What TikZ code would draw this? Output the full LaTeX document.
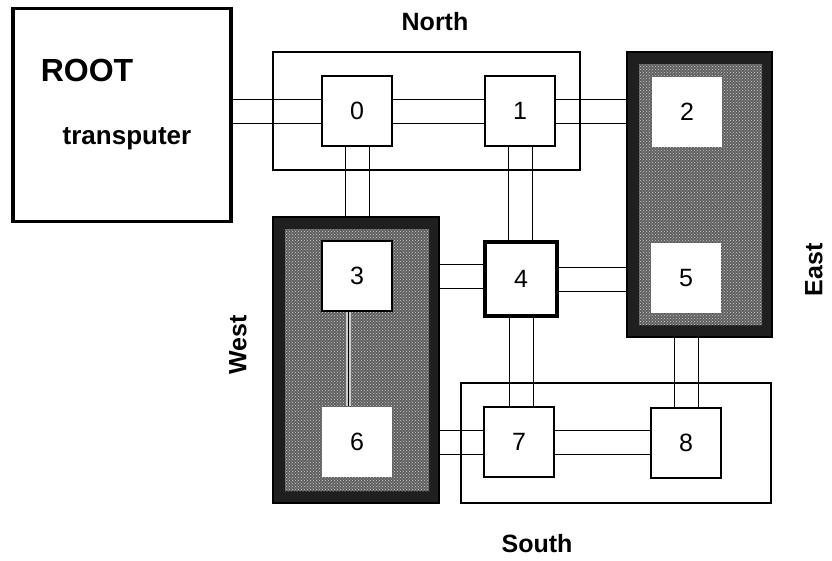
\documentclass[tikz,border=0pt]{standalone}
\usepackage{fontspec}
\setmainfont{Liberation Sans}
\usetikzlibrary{positioning}
\usetikzlibrary{backgrounds}
\usetikzlibrary{patterns}
\tikzset{cell/.style = {draw, fill=white, inner sep=0pt,
                        minimum width=70pt, minimum height=70pt,
                        font=\fontsize{25}{25}\selectfont}}
\tikzset{grp/.style = {draw}}
\tikzset{darkgrp/.style = {fill=black!88, draw=black}}
\tikzset{sidelabel/.style = {font=\fontsize{25}{25}\selectfont\bfseries}}
% two parallel wires between neighbouring cells
\newcommand{\hlink}[2]{%
  \draw ([yshift=12pt]#1.east) -- ([yshift=12pt]#1.east -| #2.west);
  \draw ([yshift=-12pt]#1.east) -- ([yshift=-12pt]#1.east -| #2.west);}
\newcommand{\vlink}[2]{%
  \draw ([xshift=-12pt]#1.south) -- ([xshift=-12pt]#1.south |- #2.north);
  \draw ([xshift=12pt]#1.south) -- ([xshift=12pt]#1.south |- #2.north);}

\begin{document}
\begin{tikzpicture}[x=1pt, y=-1pt, line width=2pt]
  \useasboundingbox (0,0) rectangle (832,560);
  % groups
  \draw[grp] (273,52) rectangle (580,170);
  \draw[grp] (461,383) rectangle (771,503);
  \draw[darkgrp] (627,52) rectangle (772,337);
  \fill[black!62] (639,64) rectangle (762,325);
  \fill[pattern=crosshatch dots, pattern color=gray!45] (639,64) rectangle (762,325);
  \draw[darkgrp] (273,217) rectangle (439,503);
  \fill[black!62] (285,229) rectangle (429,491);
  \fill[pattern=crosshatch dots, pattern color=gray!45] (285,229) rectangle (429,491);
  % host
  \node[draw, line width=3.5pt, minimum width=218pt, minimum height=213pt]
    (root) at (122,115) {};
  \node[font=\fontsize{32}{32}\selectfont\bfseries] (roottxt) at (87,70) {ROOT};
  \node[font=\fontsize{26}{26}\selectfont\bfseries] (transp) at (127,139) {transputer};
  % processors
  \node[cell] (n0) at (357,111) {0};
  \node[cell] (n1) at (520,111) {1};
  \node[cell, draw=none] (n2) at (687,112) {2};
  \node[cell] (n3) at (357,276) {3};
  \node[cell, line width=3.5pt, minimum width=72pt, minimum height=74pt]
    (n4) at (521,279) {4};
  \node[cell, draw=none] (n5) at (686,278) {5};
  \node[cell, draw=none] (n6) at (357,442) {6};
  \node[cell] (n7) at (519,442) {7};
  \node[cell] (n8) at (686,443) {8};
  % wires
  \begin{pgfonlayer}{background}
    \draw ([yshift=12pt]n0.west -| root.east) -- ([yshift=12pt]n0.west);
    \draw ([yshift=-12pt]n0.west -| root.east) -- ([yshift=-12pt]n0.west);
    \hlink{n0}{n1}
    \hlink{n1}{n2}
    \hlink{n3}{n4}
    \hlink{n4}{n5}
    \hlink{n6}{n7}
    \hlink{n7}{n8}
    \vlink{n0}{n3}
    \vlink{n1}{n4}
    \vlink{n4}{n7}
    \vlink{n5}{n8}
  \end{pgfonlayer}
  \draw[gray!40, line width=5pt] ([xshift=-9pt]n3.south) -- ([xshift=-9pt]n3.south |- n6.north);
  \draw ([xshift=-9pt]n3.south) -- ([xshift=-9pt]n3.south |- n6.north);
  % sides
  \node[sidelabel] (north) at (435,22) {North};
  \node[sidelabel] (south) at (537,544) {South};
  \node[sidelabel, rotate=90] (east) at (814,270) {East};
  \node[sidelabel, rotate=90] (west) at (238,345) {West};
\end{tikzpicture}
\end{document}
